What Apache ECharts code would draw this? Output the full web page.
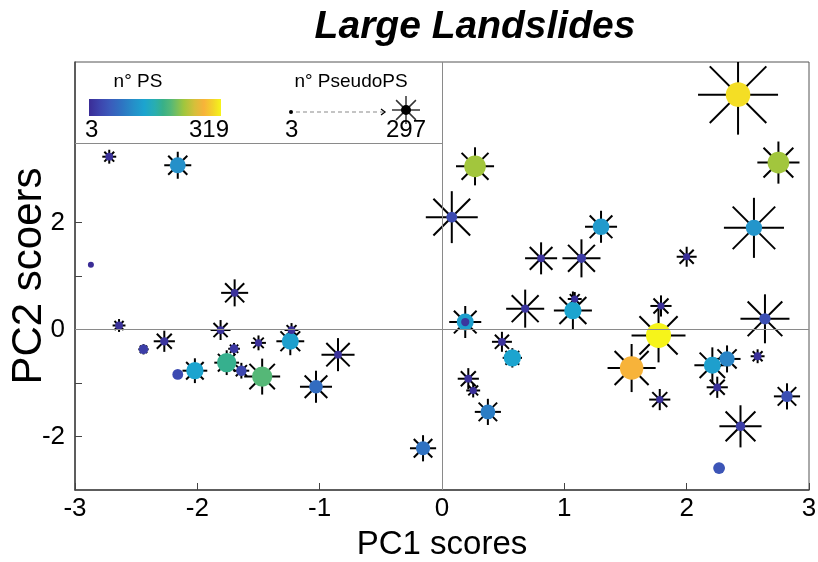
<!DOCTYPE html>
<html>
<head>
<meta charset="utf-8">
<script src="https://cdn.jsdelivr.net/npm/echarts@6/dist/echarts.min.js"></script>
<style>
  html, body { margin: 0; padding: 0; background: #fff; }
  #chart { width: 818px; height: 562px; }
</style>
</head>
<body>
<div id="chart"></div>
<script>
// Principal component scores of each landslide
const pc1 = [-2.72, -2.16, -2.87, -1.695, -2.64, -1.81, -1.23, -2.27, -2.44, -1.70,
             -1.50, -1.24, -2.16, -2.02, -1.76, -1.64, -1.47, -1.03, -0.85, -0.155,
              0.08, 0.27, 2.42, 2.75, 1.30, 2.55, 0.81, 1.14, 2.00, 0.19,
              0.19, 0.68, 1.085, 1.07, 1.79, 1.77, 2.64, 0.49, 0.575, 1.55,
              2.21, 2.33, 2.58, 0.215, 0.255, 0.375, 1.78, 2.25, 2.82, 2.44,
              2.265];
const pc2 = [3.23, 3.07, 1.21, 0.685, 0.075, -0.01, -0.01, -0.22, -0.37, -0.36,
             -0.25, -0.22, -0.84, -0.77, -0.62, -0.77, -0.88, -1.07, -0.47, -2.22,
              2.10, 3.05, 4.39, 3.12, 1.92, 1.90, 1.33, 1.33, 1.36, 0.14,
              0.14, 0.39, 0.57, 0.355, 0.44, -0.11, 0.20, -0.23, -0.53, -0.72,
             -0.67, -0.55, -0.50, -0.92, -1.14, -1.54, -1.31, -1.08, -1.25, -1.81,
             -2.59];
// number of PS (colour + dot size)
const nPS = [9, 110, 3, 9, 9, 9, 9, 12, 22, 16,
             6, 129, 35, 136, 177, 31, 199, 73, 9, 79,
             35, 231, 306, 231, 123, 117, 9, 19, 6, 129,
             12, 12, 6, 136, 6, 319, 41, 9, 136, 278,
             129, 98, 9, 9, 6, 91, 6, 9, 41, 22,
             47];
// number of pseudo-PS (asterisk size)
const nPseudoPS = [8, 30, 3, 30, 7, 16, 8, 18, 5, 6,
                   9, 32, 3, 25, 25, 10, 55, 43, 46, 28,
                   120, 62, 297, 77, 43, 163, 43, 62, 16, 43,
                   3, 62, 8, 62, 18, 130, 106, 16, 15, 102,
                   55, 30, 8, 18, 8, 28, 18, 18, 28, 77,
                   5];

const psRange = [3, 319];
const pseudoRange = [3, 297];
const xTickValues = [-3, -2, -1, 0, 1, 2, 3];
const yTickValues = [-2, -1, 0, 1, 2];
const yLabelValues = [-2, 0, 2];
const legendTop = 3.48;   // lower edge of the key panel, in PC2 units

const FONT = "'Liberation Sans', Arial, sans-serif";

// parula-like colour ramp
const ramp = [
  [0.00, [58, 44, 150]],
  [0.08, [61, 68, 173]],
  [0.16, [59, 91, 187]],
  [0.25, [46, 116, 194]],
  [0.34, [37, 144, 201]],
  [0.42, [28, 164, 207]],
  [0.50, [41, 174, 176]],
  [0.56, [56, 176, 136]],
  [0.62, [85, 184, 119]],
  [0.72, [161, 198, 61]],
  [0.80, [214, 191, 58]],
  [0.87, [247, 179, 58]],
  [0.94, [243, 212, 42]],
  [1.00, [246, 244, 26]]
];
function rampColor(t) {
  t = Math.max(0, Math.min(1, t));
  for (let i = 1; i < ramp.length; i++) {
    if (t <= ramp[i][0]) {
      const a = ramp[i - 1], b = ramp[i];
      const f = (t - a[0]) / (b[0] - a[0]);
      const c = a[1].map((v, k) => Math.round(v + (b[1][k] - v) * f));
      return 'rgb(' + c.join(',') + ')';
    }
  }
  return 'rgb(' + ramp[ramp.length - 1][1].join(',') + ')';
}
const psT = n => (n - psRange[0]) / (psRange[1] - psRange[0]);
const dotSize = n => 6 + 19 * Math.pow(psT(n), 0.6);
const rayLen = n => 2 + 38 * Math.sqrt(Math.max(0, n - pseudoRange[0]) / (pseudoRange[1] - pseudoRange[0]));

const rows = pc1.map((x, i) => [x, pc2[i], nPS[i], nPseudoPS[i]]);
// larger dots first so small ones stay visible
const dotRows = rows.slice().sort((a, b) => b[2] - a[2]);

const chart = echarts.init(document.getElementById('chart'), null, { renderer: 'canvas' });

function asterisk(cx, cy, r, width, color) {
  const d = r * Math.SQRT1_2;
  const segs = [[-r, 0, r, 0], [0, -r, 0, r], [-d, -d, d, d], [-d, d, d, -d]];
  return segs.map(s => ({
    type: 'line',
    shape: { x1: cx + s[0], y1: cy + s[1], x2: cx + s[2], y2: cy + s[3] },
    style: { stroke: color, lineWidth: width }
  }));
}

// colour bar stops
const barStops = ramp.map(s => ({ offset: s[0], color: 'rgb(' + s[1].join(',') + ')' }));

const option = {
  animation: false,
  backgroundColor: '#fff',
  textStyle: { fontFamily: FONT },
  grid: { left: 75, right: 9, top: 62, bottom: 72, containLabel: false, outerBoundsMode: 'none',
          show: true, borderColor: '#555', borderWidth: 1, backgroundColor: 'transparent' },
  xAxis: {
    type: 'value', min: -3, max: 3, interval: 1,
    axisLine: { onZero: false, lineStyle: { color: '#444', width: 1.5 } },
    axisTick: { inside: true, length: 7, lineStyle: { color: '#444', width: 1 }, customValues: xTickValues },
    axisLabel: { color: '#000', fontSize: 26, margin: 6, fontFamily: FONT },
    splitLine: { show: false },
    name: 'PC1 scores', nameLocation: 'middle', nameGap: 38, nameMoveOverlap: false,
    nameTextStyle: { color: '#000', fontSize: 33, fontFamily: FONT }
  },
  yAxis: {
    type: 'value', min: -3, max: 5, interval: 1,
    axisLine: { onZero: false, lineStyle: { color: '#444', width: 1.5 } },
    axisTick: { inside: true, length: 7, lineStyle: { color: '#444', width: 1 }, customValues: yTickValues },
    axisLabel: { color: '#000', fontSize: 26, margin: 10, fontFamily: FONT, customValues: yLabelValues },
    splitLine: { show: false },
    name: 'PC2 scoers', nameLocation: 'middle', nameGap: 25, nameMoveOverlap: false,
    nameTextStyle: { color: '#000', fontSize: 42, fontFamily: FONT }
  },
  series: [
    {
      // zero lines and key-panel divider
      type: 'line', data: [], silent: true, z: 1,
      markLine: {
        silent: true, symbol: 'none', animation: false,
        label: { show: false },
        lineStyle: { color: '#8a8a8a', width: 1, type: 'solid' },
        data: [
          { xAxis: 0 },
          { yAxis: 0 },
          [{ coord: [-3, legendTop] }, { coord: [0, legendTop] }]
        ]
      }
    },
    {
      // pseudo-PS asterisks
      type: 'custom', z: 3, clip: true,
      data: rows,
      renderItem(params, api) {
        const c = api.coord([api.value(0), api.value(1)]);
        const r = rayLen(api.value(3));
        return { type: 'group', children: asterisk(c[0], c[1], r, 2, '#000') };
      }
    },
    {
      // PS dots
      type: 'scatter', z: 4,
      data: dotRows.map(r => ({
        value: r,
        symbolSize: dotSize(r[2]),
        itemStyle: { color: rampColor(psT(r[2])), opacity: 1 }
      })),
      symbol: 'circle'
    }
  ],
  graphic: [
    { type: 'text', style: {
        text: 'Large Landslides', x: 475, y: 27, align: 'center', verticalAlign: 'middle',
        font: 'italic bold 39px ' + FONT, fill: '#000' } },
    // key: PS colour scale
    { type: 'text', style: { text: 'n° PS', x: 138, y: 82, align: 'center', verticalAlign: 'middle',
        font: '19px ' + FONT, fill: '#000' } },
    { type: 'rect', shape: { x: 89, y: 99, width: 132, height: 17 },
      style: { fill: new echarts.graphic.LinearGradient(0, 0, 1, 0, barStops) } },
    { type: 'text', style: { text: String(psRange[0]), x: 85, y: 130, align: 'left', verticalAlign: 'middle',
        font: '24px ' + FONT, fill: '#000' } },
    { type: 'text', style: { text: String(psRange[1]), x: 229, y: 130, align: 'right', verticalAlign: 'middle',
        font: '24px ' + FONT, fill: '#000' } },
    // key: pseudo-PS size scale
    { type: 'text', style: { text: 'n° PseudoPS', x: 351, y: 82, align: 'center', verticalAlign: 'middle',
        font: '19px ' + FONT, fill: '#000' } },
    { type: 'circle', shape: { cx: 291, cy: 112, r: 2 }, style: { fill: '#000' } },
    { type: 'line', shape: { x1: 296, y1: 112, x2: 383, y2: 112 },
      style: { stroke: '#8a8a8a', lineWidth: 1.2, lineDash: [4, 3] } },
    { type: 'polyline', shape: { points: [[381, 109], [385, 112], [381, 115]] },
      style: { stroke: '#000', lineWidth: 1.3, fill: null } },
    { type: 'group', children: asterisk(406, 110, 14, 1.5, '#333') },
    { type: 'circle', shape: { cx: 406, cy: 110, r: 5 }, style: { fill: '#000' } },
    { type: 'text', style: { text: String(pseudoRange[0]), x: 285, y: 130, align: 'left', verticalAlign: 'middle',
        font: '24px ' + FONT, fill: '#000' } },
    { type: 'text', style: { text: String(pseudoRange[1]), x: 426, y: 130, align: 'right', verticalAlign: 'middle',
        font: '24px ' + FONT, fill: '#000' } }
  ]
};
chart.setOption(option);
</script>
</body>
</html>
